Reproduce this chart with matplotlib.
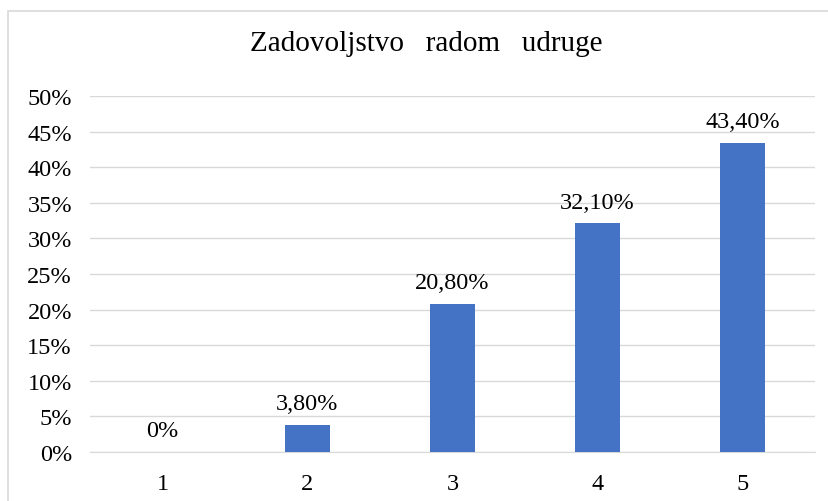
import matplotlib
matplotlib.use("Agg")
import matplotlib.pyplot as plt
from matplotlib.patches import Rectangle
from matplotlib.transforms import offset_copy

categories = ["1", "2", "3", "4", "5"]
values = [0.0, 3.8, 20.8, 32.1, 43.4]
labels = ["0%", "3,80%", "20,80%", "32,10%", "43,40%"]
yticks = [0, 5, 10, 15, 20, 25, 30, 35, 40, 45, 50]

plt.rcParams['font.family'] = ['Liberation Serif', 'DejaVu Serif']

fig = plt.figure(figsize=(8.29, 5.02), dpi=100)
fig.patches.append(Rectangle((8/829, -0.05), 1.0, 1 - 12/502 + 0.05, transform=fig.transFigure,
                             fill=False, edgecolor='#d9d9d9', linewidth=1.2))
ax = fig.add_axes([90/829, 49/502, 725/829, 356/502])
x = list(range(len(categories)))
ax.bar(x, values, width=0.305, color='#4472c4', zorder=3)
ax.set_xlim(-0.5, len(categories) - 0.5)
ax.set_ylim(0, 50)
ax.set_yticks(yticks)
ax.set_yticklabels([f"{t}%" for t in yticks])
ax.set_xticks(x)
ax.set_xticklabels(categories)
ax.grid(axis='y', color='#d9d9d9', linewidth=1, zorder=0)
for s in ['top', 'right', 'left']:
    ax.spines[s].set_visible(False)
ax.spines['bottom'].set_color('#d9d9d9')
ax.tick_params(axis='both', length=0, labelsize=17.5, colors='#000000')
ax.tick_params(axis='y', pad=13)
ax.tick_params(axis='x', pad=15)
for xi, v, l in zip(x, values, labels):
    tr = offset_copy(ax.transData, fig=fig, x=0, y=15.5, units='dots')
    ax.text(xi, v, l, ha='center', va='baseline', fontsize=17.5, color='#000000', transform=tr)
fig.text(426/829, 1 - 51/502, "Zadovoljstvo   radom   udruge", ha='center', va='baseline', fontsize=21)
fig.savefig("out.png", dpi=100)
